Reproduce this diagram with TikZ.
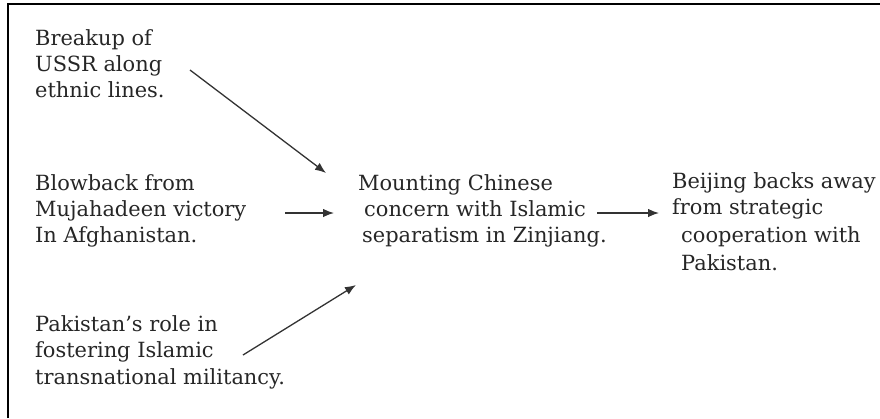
\documentclass[tikz,border=0pt]{standalone}
\usepackage{fontspec}
\setmainfont{DejaVu Serif}
\usetikzlibrary{arrows.meta}
\begin{document}
\begin{tikzpicture}[x=1bp,y=-1bp,
  lbl/.style={inner sep=0pt, anchor=base west, text=black!85,
    font=\fontsize{21}{26.5}\selectfont},
  arr/.style={draw=black!80, line width=1.3bp, -{Latex[length=11bp,width=8.5bp]}}]
\useasboundingbox (0,0) rectangle (880,418);
\draw[line width=2bp] (8,418) -- (8,4) -- (880,4);
\node[lbl] (ussr) at (35,45) {\begin{tabular}[t]{@{}l@{}}Breakup of\\USSR along\\ethnic lines.\end{tabular}};
\node[lbl] (blow) at (35,190) {\begin{tabular}[t]{@{}l@{}}Blowback from\\Mujahadeen victory\\In Afghanistan.\end{tabular}};
\node[lbl] (pak) at (35,331.5) {\begin{tabular}[t]{@{}l@{}}Pakistan’s role in\\fostering Islamic\\transnational militancy.\end{tabular}};
\node[lbl] (china) at (358,190) {\begin{tabular}[t]{@{}l@{}}Mounting Chinese\\\hspace{6bp}concern with Islamic\\\hspace{4bp}separatism in Zinjiang.\end{tabular}};
\node[lbl] (beijing) at (672,188) {\begin{tabular}[t]{@{}l@{}}Beijing backs away\\from strategic\\[2bp]\hspace{9bp}cooperation with\\[1.5bp]\hspace{9bp}Pakistan.\end{tabular}};
\coordinate (a1s) at (190,70);
\coordinate (a1e) at (326,173);
\coordinate (a2s) at (285,213);
\coordinate (a2e) at (334,213);
\coordinate (a3s) at (243,355);
\coordinate (a3e) at (356,285);
\coordinate (a4s) at (597,213);
\coordinate (a4e) at (659,213);
\draw[arr] (a1s) -- (a1e);
\draw[arr] (a2s) -- (a2e);
\draw[arr] (a3s) -- (a3e);
\draw[arr] (a4s) -- (a4e);
\end{tikzpicture}
\end{document}
